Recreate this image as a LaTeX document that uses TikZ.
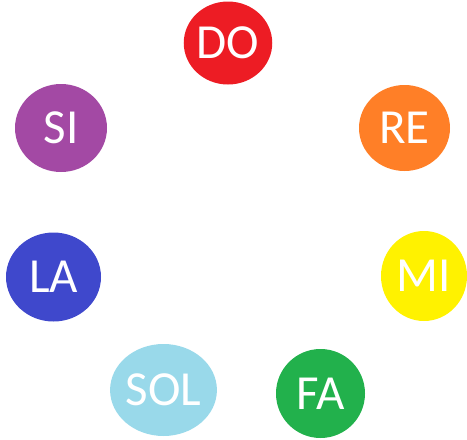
\documentclass[tikz,border=0pt]{standalone}
\usepackage{fontspec}
\setmainfont{Carlito}
\usetikzlibrary{shapes.geometric}
\definecolor{cdo}{HTML}{ED1C24}
\definecolor{cre}{HTML}{FF7F27}
\definecolor{csi}{HTML}{A349A4}
\definecolor{cmi}{HTML}{FFF200}
\definecolor{cla}{HTML}{3F48CC}
\definecolor{csol}{HTML}{99D9EA}
\definecolor{cfa}{HTML}{22B14C}
\tikzset{
  note/.style={ellipse, inner sep=0pt, text=white,
    font=\fontsize{49}{49}\selectfont}
}
\begin{document}
\begin{tikzpicture}[x=1pt,y=-1pt]
\useasboundingbox (0,0) rectangle (467,440);
\node[note, fill=cdo, minimum width=88pt, minimum height=83pt] (do) at (228,43) {DO};
\node[note, fill=cre, minimum width=91pt, minimum height=86pt] (re) at (404.5,128) {RE};
\node[note, fill=csi, minimum width=92pt, minimum height=88pt] (si) at (61,128) {SI};
\node[note, fill=cmi, minimum width=86pt, minimum height=90pt] (mi) at (424,276) {MI};
\node[note, fill=cla, minimum width=95pt, minimum height=89pt] (la) at (53.5,277) {LA};
\node[note, fill=csol, minimum width=93pt, minimum height=92pt] (sol) at (163.5,390) {SOL};
\node[note, fill=cfa, minimum width=89pt, minimum height=89pt] (fa) at (320.5,393.5) {FA};
\end{tikzpicture}
\end{document}
